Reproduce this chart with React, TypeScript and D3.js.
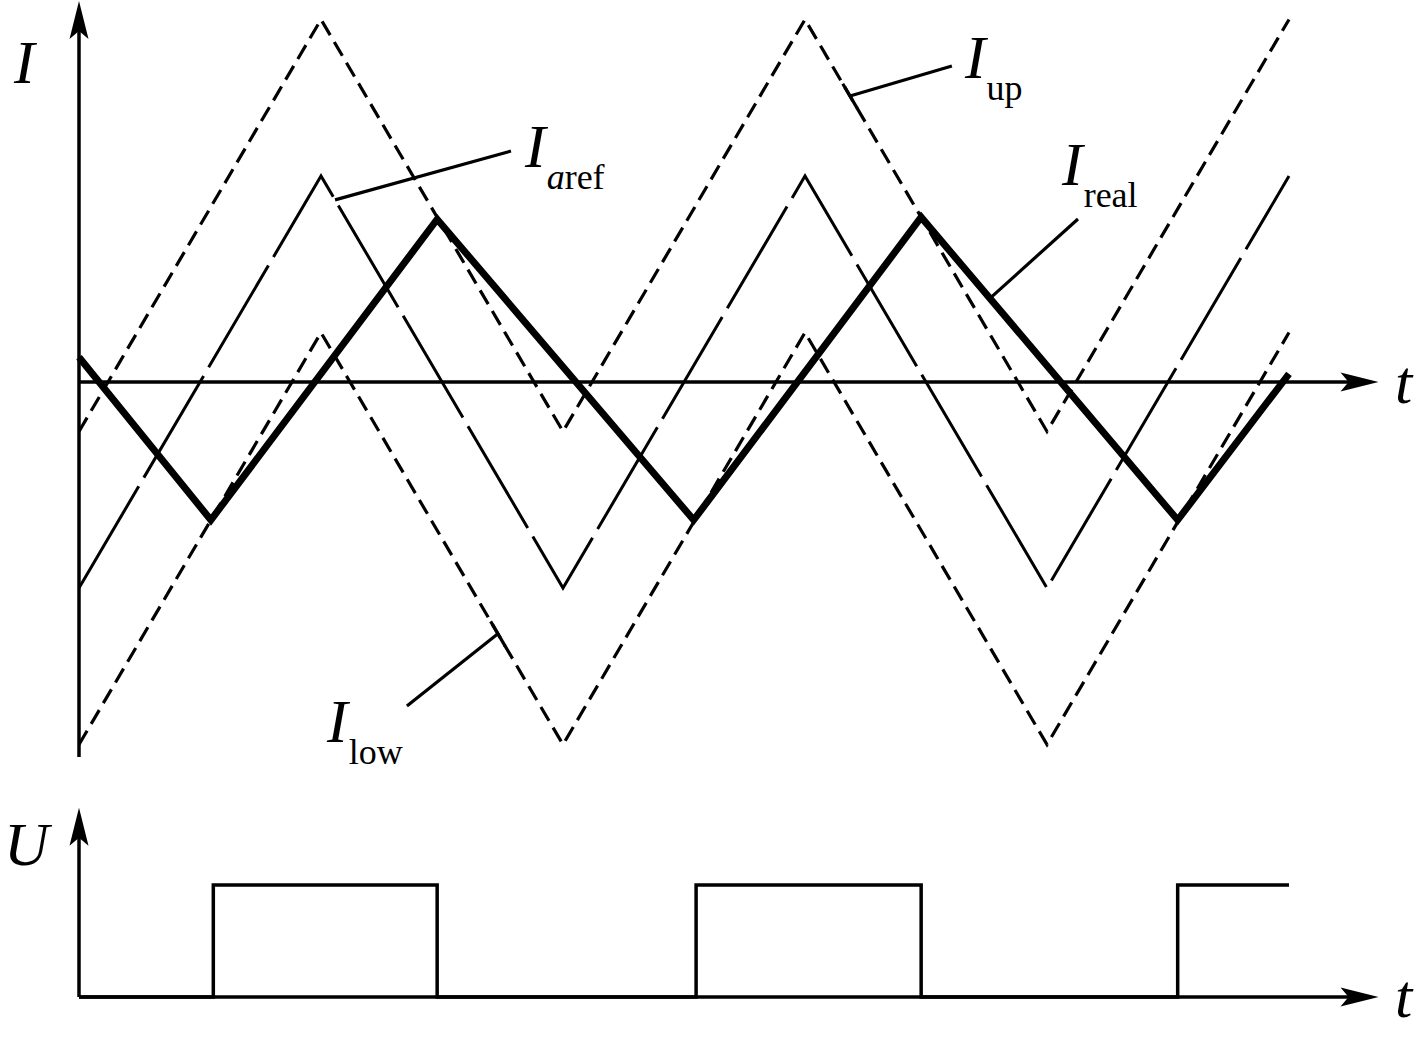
import React, { useEffect, useRef } from 'react';
import * as d3 from 'd3';

const W = 1415;
const H = 1040;

// reference current (triangle) and the two hysteresis band edges
const refTimes = [0, 1, 2, 3, 4, 5];
const arefValues = [-1, 1, -1, 1, -1, 1];
const upValues = [-0.24, 1.76, -0.24, 1.76, -0.24, 1.76];
const lowValues = [-1.76, 0.24, -1.76, 0.24, -1.76, 0.24];

// actual current, bouncing between the band edges
const realTimes = [0, 0.545, 1.48, 2.54, 3.48, 4.54, 5.0];
const realValues = [0.12, -0.67, 0.79, -0.67, 0.8, -0.67, 0.04];

// switch voltage
const uTimes = [0, 0.555, 1.48, 2.55, 3.48, 4.54, 5.0];
const uValues = [0, 1, 0, 1, 0, 1, 1];

// leader lines + labels (t0 on the curve, t1/v1 leader end, lt/lv label baseline)
const annotations = [
  { series: 'up', t0: 3.186, t1: 3.607, v1: 1.534, lt: 3.661, lv: 1.476, sub: [['up', false]], tick: true },
  { series: 'aref', t0: 1.058, t1: 1.785, v1: 1.121, lt: 1.843, lv: 1.044, sub: [['a', true], ['ref', false]], tick: false },
  { series: 'real', t0: 3.764, t1: 4.128, v1: 0.791, lt: 4.062, lv: 0.956, sub: [['real', false]], tick: false },
  { series: 'low', t0: 1.731, t1: 1.355, v1: -1.573, lt: 1.025, lv: -1.748, sub: [['low', false]], tick: true },
];

const FONT = "'Liberation Serif', 'Times New Roman', serif";

const HysteresisChart = () => {
  const ref = useRef(null);

  useEffect(() => {
    draw();
  }, []);

  const draw = () => {
    const svg = d3.select(ref.current);
    svg.selectAll('*').remove();

    const x = d3.scaleLinear().domain([0, 5]).range([79, 1289]);
    const yI = d3.scaleLinear().domain([-1, 1]).range([588, 176]);
    const yU = d3.scaleLinear().domain([0, 1]).range([997, 885]);

    const seriesMap = {
      aref: { times: refTimes, values: arefValues },
      up: { times: refTimes, values: upValues },
      low: { times: refTimes, values: lowValues },
      real: { times: realTimes, values: realValues },
    };

    const lineI = d3.line().x(d => x(d[0])).y(d => yI(d[1]));
    const zip = (ts, vs) => ts.map((t, i) => [t, vs[i]]);

    svg.append('rect').attr('width', W).attr('height', H).attr('fill', 'white');

    // notched arrowhead, pointing along (dx, dy)
    const arrow = (tx, ty, dx, dy) => {
      const len = 38, half = 9.5, notch = 30;
      const px = -dy, py = dx;
      const pts = [
        [tx, ty],
        [tx - dx * len + px * half, ty - dy * len + py * half],
        [tx - dx * notch, ty - dy * notch],
        [tx - dx * len - px * half, ty - dy * len - py * half],
      ];
      svg.append('path').attr('d', 'M' + pts.map(p => p.join(',')).join('L') + 'Z').attr('fill', 'black');
    };

    const axis = (x1, y1, x2, y2) =>
      svg.append('line').attr('x1', x1).attr('y1', y1).attr('x2', x2).attr('y2', y2)
        .attr('stroke', 'black').attr('stroke-width', 3.5);

    // I axes
    const tEnd = 5.37;
    axis(x(0), yI(-1.82), x(0), yI(1.85) + 20);
    arrow(x(0), yI(1.85), 0, -1);
    axis(x(0), yI(0), x(tEnd) - 20, yI(0));
    arrow(x(tEnd), yI(0), 1, 0);

    // U axes
    axis(x(0), yU(0), x(0), yU(1.69) + 20);
    arrow(x(0), yU(1.69), 0, -1);
    axis(x(0), yU(0), x(tEnd) - 20, yU(0));
    arrow(x(tEnd), yU(0), 1, 0);

    // band edges
    [upValues, lowValues].forEach(vals => {
      svg.append('path').attr('d', lineI(zip(refTimes, vals)))
        .attr('fill', 'none').attr('stroke', 'black').attr('stroke-width', 3.2)
        .attr('stroke-dasharray', '16 8');
    });

    // reference
    svg.append('path').attr('d', lineI(zip(refTimes, arefValues)))
      .attr('fill', 'none').attr('stroke', 'black').attr('stroke-width', 3)
      .attr('stroke-dasharray', '118 10');

    // real current
    svg.append('path').attr('d', lineI(zip(realTimes, realValues)))
      .attr('fill', 'none').attr('stroke', 'black').attr('stroke-width', 7)
      .attr('stroke-linejoin', 'miter');

    // U square wave
    const lineU = d3.line().x(d => x(d[0])).y(d => yU(d[1])).curve(d3.curveStepAfter);
    svg.append('path').attr('d', lineU(zip(uTimes, uValues)))
      .attr('fill', 'none').attr('stroke', 'black').attr('stroke-width', 3.5);

    // leaders and labels
    annotations.forEach(a => {
      const s = seriesMap[a.series];
      const interp = d3.scaleLinear().domain(s.times).range(s.values);
      const x0 = x(a.t0), y0 = yI(interp(a.t0));
      svg.append('line').attr('x1', x0).attr('y1', y0).attr('x2', x(a.t1)).attr('y2', yI(a.v1))
        .attr('stroke', 'black').attr('stroke-width', 3.2);
      if (a.tick) {
        const xa = x(a.t0 - 0.03), ya = yI(interp(a.t0 - 0.03));
        const xb = x(a.t0 + 0.03), yb = yI(interp(a.t0 + 0.03));
        svg.append('line').attr('x1', xa).attr('y1', ya).attr('x2', xb).attr('y2', yb)
          .attr('stroke', 'black').attr('stroke-width', 3.2);
      }
      const txt = svg.append('text').attr('x', x(a.lt)).attr('y', yI(a.lv))
        .attr('font-family', FONT).attr('fill', 'black');
      txt.append('tspan').attr('font-style', 'italic').attr('font-size', 62).text('I');
      a.sub.forEach(([str, it], i) => {
        const sp = txt.append('tspan').attr('font-size', 36).attr('font-style', it ? 'italic' : 'normal').text(str);
        if (i === 0) sp.attr('dy', 22).attr('dx', 1);
      });
    });

    // axis labels
    const axisLabel = (label, lx, ly) =>
      svg.append('text').attr('x', lx).attr('y', ly).attr('font-family', FONT)
        .attr('font-style', 'italic').attr('font-size', 62).attr('fill', 'black').text(label);
    axisLabel('I', 14, yI(1.45));
    axisLabel('U', 4, yU(1.18));
    axisLabel('t', 1395, yI(-0.1));
    axisLabel('t', 1395, yU(-0.18));
  };

  return <svg ref={ref} width={W} height={H} style={{ position: 'absolute', left: 0, top: 0, display: 'block' }}></svg>;
};

export default function App() {
  return <HysteresisChart />;
}
